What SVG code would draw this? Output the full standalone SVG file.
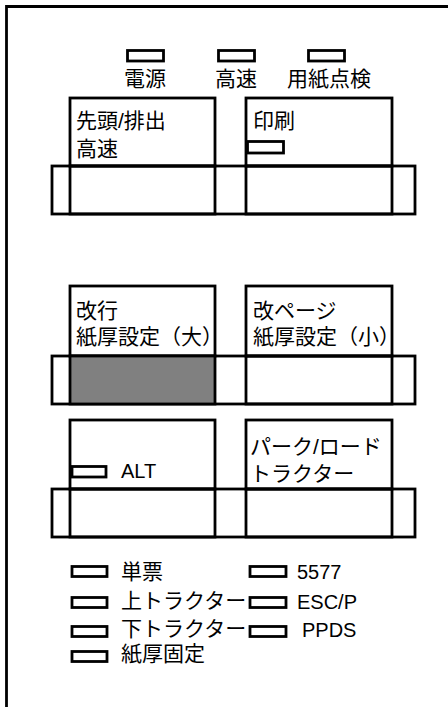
<svg xmlns="http://www.w3.org/2000/svg" width="448" height="707" viewBox="0 0 448 707">
<style>
rect, path { fill: none; stroke: #000; stroke-width: 2.8; }
.led { fill: #fff; }
.gray { fill: #808080; }
text { font-family: "Liberation Sans", "Noto Sans CJK JP", sans-serif; font-size: 21px; fill: #000; }
.lat { font-size: 20px; }
.c { text-anchor: middle; }
</style>
<rect x="0" y="0" width="448" height="707" style="fill:#fff;stroke:none"/>
<g id="frame"><path d="M6.5,707 V6.5 H448"/></g>

<g id="ind-power"><rect class="led" x="127.5" y="50.5" width="36" height="10.5"/><text class="c" x="145" y="85.5">電源</text></g>
<g id="ind-fast"><rect class="led" x="218.5" y="50.5" width="36" height="10.5"/><text class="c" x="236" y="85.5">高速</text></g>
<g id="ind-paper"><rect class="led" x="308.5" y="50.5" width="36" height="10.5"/><text class="c" x="329" y="85.5">用紙点検</text></g>

<g id="strip-a"><rect x="52" y="166" width="363" height="48"/></g>
<g id="btn-feed">
<rect x="70" y="98" width="145" height="68"/><rect x="70" y="166" width="145" height="48"/>
<text x="76" y="128">先頭/排出</text><text x="76" y="156">高速</text>
</g>
<g id="btn-print">
<rect x="246" y="98" width="146" height="68"/><rect x="246" y="166" width="146" height="48"/>
<text x="253" y="128">印刷</text>
<rect class="led" x="247.5" y="141.5" width="36" height="11.5"/>
</g>

<g id="strip-b"><rect x="52" y="356" width="363" height="48"/></g>
<g id="btn-lf">
<rect x="70" y="286" width="145" height="70"/><rect class="gray" x="70" y="356" width="145" height="48"/>
<text x="76" y="318">改行</text><text x="76" y="344">紙厚設定（大）</text>
</g>
<g id="btn-ff">
<rect x="246" y="286" width="146" height="70"/><rect x="246" y="356" width="146" height="48"/>
<text x="253" y="318">改ページ</text><text x="253" y="344">紙厚設定（小）</text>
</g>

<g id="strip-c"><rect x="52" y="489" width="363" height="48"/></g>
<g id="btn-alt">
<rect x="70" y="420" width="145" height="69"/><rect x="70" y="489" width="145" height="48"/>
<rect class="led" x="72" y="466.5" width="34" height="10.5"/>
<text class="lat" x="121" y="478">ALT</text>
</g>
<g id="btn-park">
<rect x="246" y="420" width="146" height="69"/><rect x="246" y="489" width="146" height="48"/>
<text x="250" y="453.5">パーク/ロード</text><text x="250" y="481">トラクター</text>
</g>

<g id="ind-cut"><rect class="led" x="72" y="566.5" width="35" height="10"/><text x="121" y="579">単票</text></g>
<g id="ind-top"><rect class="led" x="72" y="597.5" width="35" height="10"/><text x="121" y="608">上トラクター</text></g>
<g id="ind-bottom"><rect class="led" x="72" y="626.5" width="35" height="10"/><text x="121" y="636">下トラクター</text></g>
<g id="ind-thick"><rect class="led" x="72" y="651.5" width="35" height="10"/><text x="121" y="661">紙厚固定</text></g>
<g id="ind-5577"><rect class="led" x="250" y="566.5" width="36" height="10"/><text class="lat" x="297" y="579">5577</text></g>
<g id="ind-escp"><rect class="led" x="250" y="597.5" width="36" height="10"/><text class="lat" x="297" y="609">ESC/P</text></g>
<g id="ind-ppds"><rect class="led" x="250" y="626.5" width="36" height="10"/><text class="lat" x="302" y="637">PPDS</text></g>
</svg>
